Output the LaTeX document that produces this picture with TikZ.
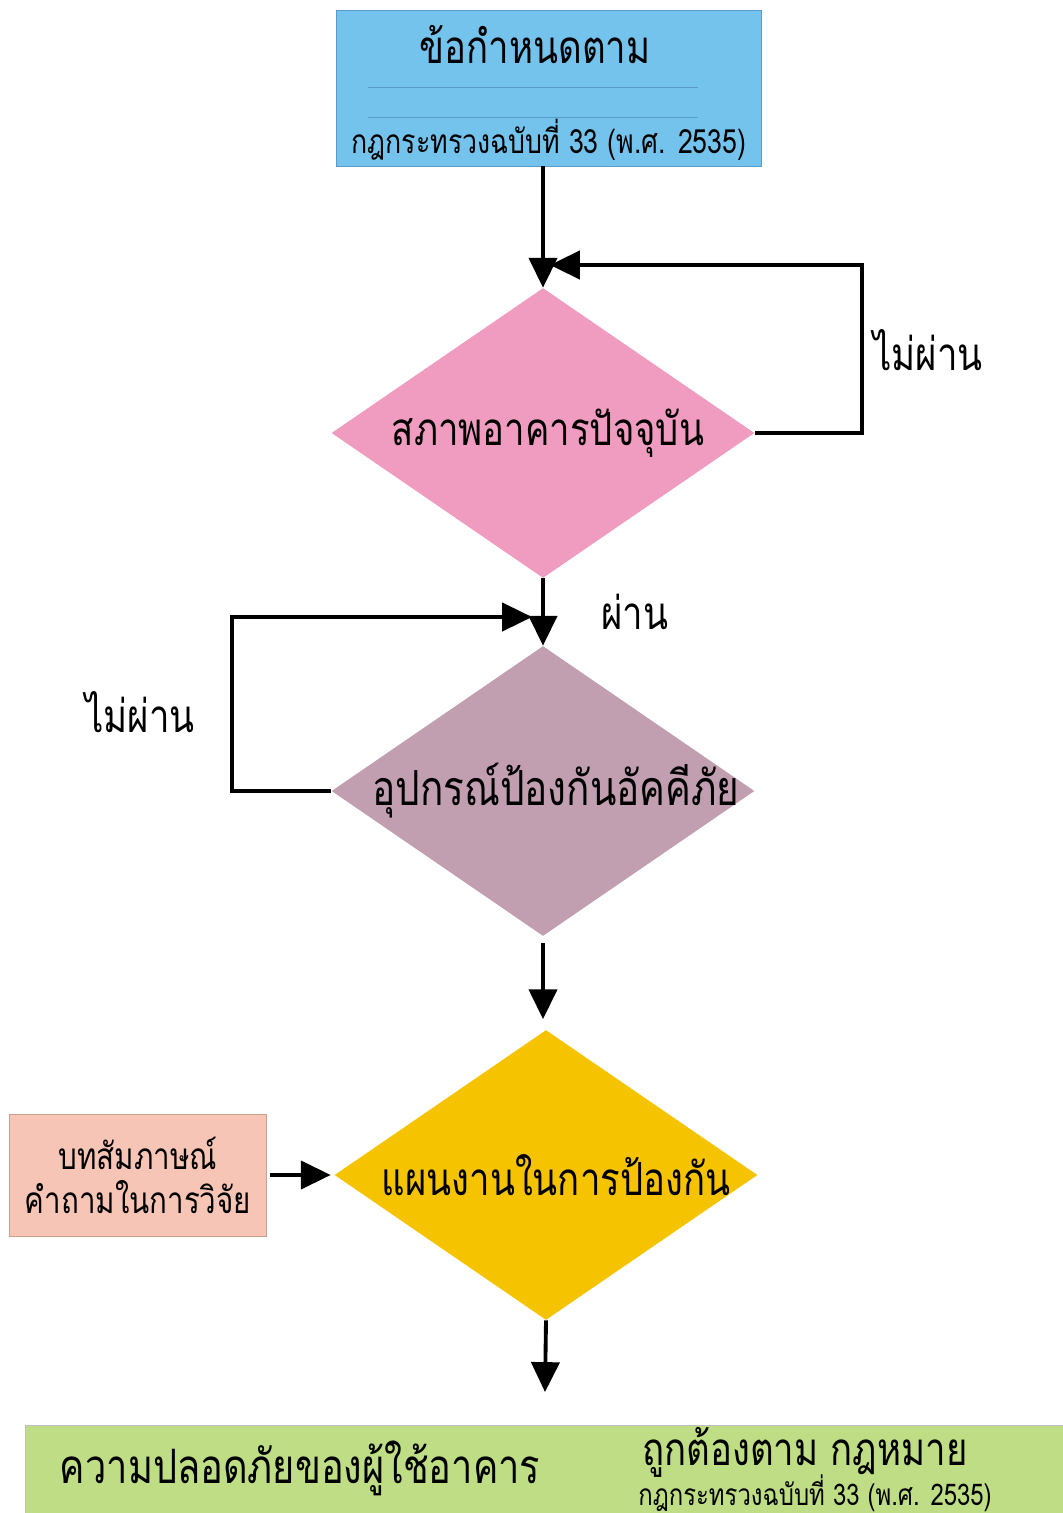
\documentclass[tikz,border=0pt]{standalone}
\usepackage{fontspec}
\newfontfamily\thai[Script=Thai,FakeStretch=0.8]{Loma}
\usetikzlibrary{arrows.meta}
\usetikzlibrary{positioning}
\usetikzlibrary{shapes.geometric}

\definecolor{lawblue}{HTML}{74C3ED}
\definecolor{lawedge}{HTML}{5A9BC9}
\definecolor{statepink}{HTML}{F09BC0}
\definecolor{equipmauve}{HTML}{C19FB1}
\definecolor{planyellow}{HTML}{F6C300}
\definecolor{asksalmon}{HTML}{F7C5B5}
\definecolor{askedge}{HTML}{C9A090}
\definecolor{safegreen}{HTML}{BEDD84}

\begin{document}
\begin{tikzpicture}[x=0.02cm,y=-0.02cm,
    dia/.style={diamond, draw=none, inner sep=0pt, minimum width=8.46cm, minimum height=5.8cm},
    flow/.style={line width=2.2pt, -{Triangle[length=17pt,width=16pt]}},
    big/.style={font=\thai\fontsize{26}{30}\selectfont},
    small/.style={font=\thai\fontsize{19}{22}\selectfont}]
  \useasboundingbox (0,0) rectangle (1062,1513);

  % กล่องข้อกำหนด
  \node[draw=lawedge, fill=lawblue, minimum width=8.5cm, minimum height=3.12cm] (law) at (549,88) {};
  \node[big] (lawtitle) at (535,45) {ข้อกำหนดตาม};
  \draw[lawedge, line width=0.5pt] (368,87) -- (698,87);
  \draw[lawedge, line width=0.5pt] (368,117) -- (698,117);
  \node[small] (lawsub) at (549,140) {กฎกระทรวงฉบับที่ 33 (พ.ศ. 2535)};

  % เงื่อนไขทั้งสาม
  \node[dia, fill=statepink, label={[big, xshift=0.1cm]center:สภาพอาคารปัจจุบัน}] (state) at (543,433) {};
  \node[dia, fill=equipmauve, label={[font=\thai\fontsize{27.5}{30}\selectfont, xshift=0.26cm]center:อุปกรณ์ป้องกันอัคคีภัย}] (equip) at (543,791) {};
  \node[dia, fill=planyellow, label={[big, xshift=0.2cm]center:แผนงานในการป้องกัน}] (plan) at (546,1175) {};

  % กล่องสัมภาษณ์
  \node[draw=askedge, fill=asksalmon, minimum width=5.14cm, minimum height=2.44cm,
        align=center, font=\thai\fontsize{21}{25}\selectfont] (ask) at (138,1175) {บทสัมภาษณ์\\คำถามในการวิจัย};

  % ผลลัพธ์
  \node[draw=black!25, fill=safegreen, anchor=north west, minimum width=21.5cm, minimum height=2.4cm] (safe) at (25,1425) {};
  \node[font=\thai\fontsize{27}{30}\selectfont] (safetxt) at (300,1468) {ความปลอดภัยของผู้ใช้อาคาร};
  \node[font=\thai\fontsize{26}{30}\selectfont, inner sep=0pt] (lawtxt) at (805,1452) {ถูกต้องตาม กฎหมาย};
  \node[font=\thai\fontsize{17}{20}\selectfont, inner sep=0pt] (lawtxt2) at (815,1493) {กฎกระทรวงฉบับที่ 33 (พ.ศ. 2535)};

  % ลูกศร
  \coordinate (r1) at (862,265);
  \coordinate (t1) at (550,265);
  \coordinate (l2) at (232,617);
  \coordinate (t2) at (532,617);
  \coordinate (out) at (545,1392);
  \draw[flow] (state.north |- law.south) -- (state.north);
  \draw[flow] (state.east) -| (r1) -- (t1);
  \draw[flow] (state.south) -- (equip.north);
  \draw[flow] (equip.west) -| (l2) -- (t2);
  \draw[flow, shorten <=4pt, shorten >=6pt] (equip.south) -- (equip.south |- plan.north);
  \draw[flow, shorten <=2pt, shorten >=2pt] (ask.east) -- (plan.west);
  \draw[flow] (plan.south) -- (out);

  \node[big] (nopass1) at (928,350) {ไม่ผ่าน};
  \node[big] (pass) at (635,612) {ผ่าน};
  \node[big] (nopass2) at (140,712) {ไม่ผ่าน};
\end{tikzpicture}
\end{document}
